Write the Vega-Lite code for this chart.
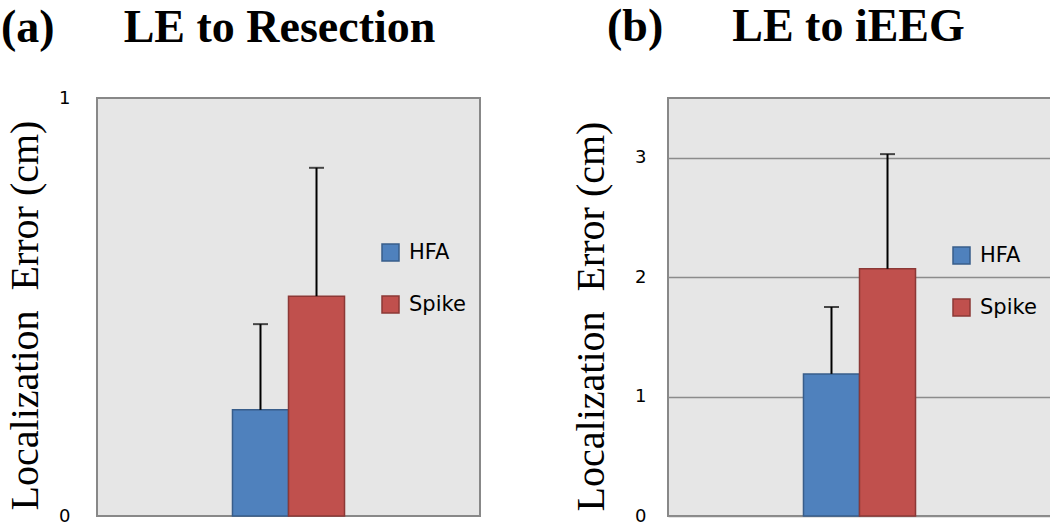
{
  "$schema": "https://vega.github.io/schema/vega-lite/v6.json",
  "padding": {"left": 0, "right": 0, "top": 3, "bottom": 0},
  "background": "white",
  "spacing": 89,
  "datasets": {
    "a": [
      {"set": "a", "group": "HFA", "value": 0.254, "upper": 0.459},
      {"set": "a", "group": "Spike", "value": 0.526, "upper": 0.833}
    ],
    "b": [
      {"set": "b", "group": "HFA", "value": 1.19, "upper": 1.75},
      {"set": "b", "group": "Spike", "value": 2.07, "upper": 3.03}
    ]
  },
  "config": {
    "view": {"fill": "#e6e6e6", "stroke": "#888888", "strokeWidth": 2},
    "title": {"font": "Liberation Serif", "fontSize": 46, "fontWeight": "bold", "color": "#000000", "anchor": "start", "frame": "group"},
    "axis": {"labelFont": "DejaVu Sans", "labelFontSize": 18, "labelColor": "#000000", "titleFont": "Liberation Serif", "titleFontSize": 40, "titleFontWeight": "normal", "titleColor": "#000000", "domain": false, "ticks": false, "labelFlush": false, "format": "d"},
    "legend": {"labelFont": "DejaVu Sans", "labelFontSize": 21, "labelColor": "#000000", "symbolType": "square", "symbolSize": 289, "symbolStrokeWidth": 1.5, "labelOffset": 8, "rowPadding": 29, "padding": 0}
  },
  "hconcat": [
    {
      "width": 383,
      "height": 418,
      "title": {"text": "(a)\u00a0\u00a0\u00a0\u00a0\u00a0\u00a0LE to Resection", "dx": -96, "offset": 37},
      "data": {"name": "a"},
      "encoding": {
        "x": {"field": "set", "type": "nominal", "scale": {"paddingInner": 0.173, "paddingOuter": 1}, "axis": null},
        "xOffset": {"field": "group", "type": "nominal", "scale": {"paddingInner": 0, "paddingOuter": 0}}
      },
      "layer": [
        {
          "mark": {"type": "bar", "strokeWidth": 1.5},
          "encoding": {
            "y": {"field": "value", "type": "quantitative", "scale": {"domain": [0, 1]},
                  "axis": {"values": [0, 1], "grid": false, "labelPadding": 27, "title": "Localization\u00a0 Error (cm)", "titlePadding": 13, "titleY": 217}},
            "fill": {"field": "group", "type": "nominal", "scale": {"domain": ["HFA", "Spike"], "range": ["#4f81bd", "#c0504d"]},
                     "legend": {"orient": "none", "legendX": 283, "legendY": 144, "title": null}},
            "stroke": {"field": "group", "type": "nominal", "scale": {"domain": ["HFA", "Spike"], "range": ["#385d8a", "#8c3836"]},
                       "legend": {"orient": "none", "legendX": 283, "legendY": 144, "title": null}}
          }
        },
        {
          "mark": {"type": "rule", "color": "#000000", "strokeWidth": 2},
          "encoding": {
            "y": {"field": "value", "type": "quantitative"},
            "y2": {"field": "upper"}
          }
        },
        {
          "mark": {"type": "tick", "color": "#000000", "thickness": 2, "size": 15},
          "encoding": {
            "y": {"field": "upper", "type": "quantitative"}
          }
        }
      ]
    },
    {
      "width": 383,
      "height": 418,
      "title": {"text": "(b)\u00a0\u00a0\u00a0\u00a0\u00a0\u00a0LE to iEEG", "dx": -61, "offset": 47},
      "data": {"name": "b"},
      "encoding": {
        "x": {"field": "set", "type": "nominal", "scale": {"paddingInner": 0.173, "paddingOuter": 1}, "axis": null},
        "xOffset": {"field": "group", "type": "nominal", "scale": {"paddingInner": 0, "paddingOuter": 0}}
      },
      "layer": [
        {
          "mark": {"type": "bar", "strokeWidth": 1.5},
          "encoding": {
            "y": {"field": "value", "type": "quantitative", "scale": {"domain": [0, 3.5]},
                  "axis": {"values": [0, 1, 2, 3], "grid": true, "gridColor": "#8c8c8c", "gridWidth": 1.5, "labelPadding": 22, "title": "Localization\u00a0 Error (cm)", "titlePadding": 23, "titleY": 218}},
            "fill": {"field": "group", "type": "nominal", "scale": {"domain": ["HFA", "Spike"], "range": ["#4f81bd", "#c0504d"]},
                     "legend": {"orient": "none", "legendX": 283, "legendY": 147, "title": null}},
            "stroke": {"field": "group", "type": "nominal", "scale": {"domain": ["HFA", "Spike"], "range": ["#385d8a", "#8c3836"]},
                       "legend": {"orient": "none", "legendX": 283, "legendY": 147, "title": null}}
          }
        },
        {
          "mark": {"type": "rule", "color": "#000000", "strokeWidth": 2},
          "encoding": {
            "y": {"field": "value", "type": "quantitative"},
            "y2": {"field": "upper"}
          }
        },
        {
          "mark": {"type": "tick", "color": "#000000", "thickness": 2, "size": 15},
          "encoding": {
            "y": {"field": "upper", "type": "quantitative"}
          }
        }
      ]
    }
  ],
  "resolve": {
    "scale": {"x": "independent", "y": "independent", "xOffset": "independent", "fill": "independent", "stroke": "independent"},
    "legend": {"fill": "independent", "stroke": "independent"}
  }
}
